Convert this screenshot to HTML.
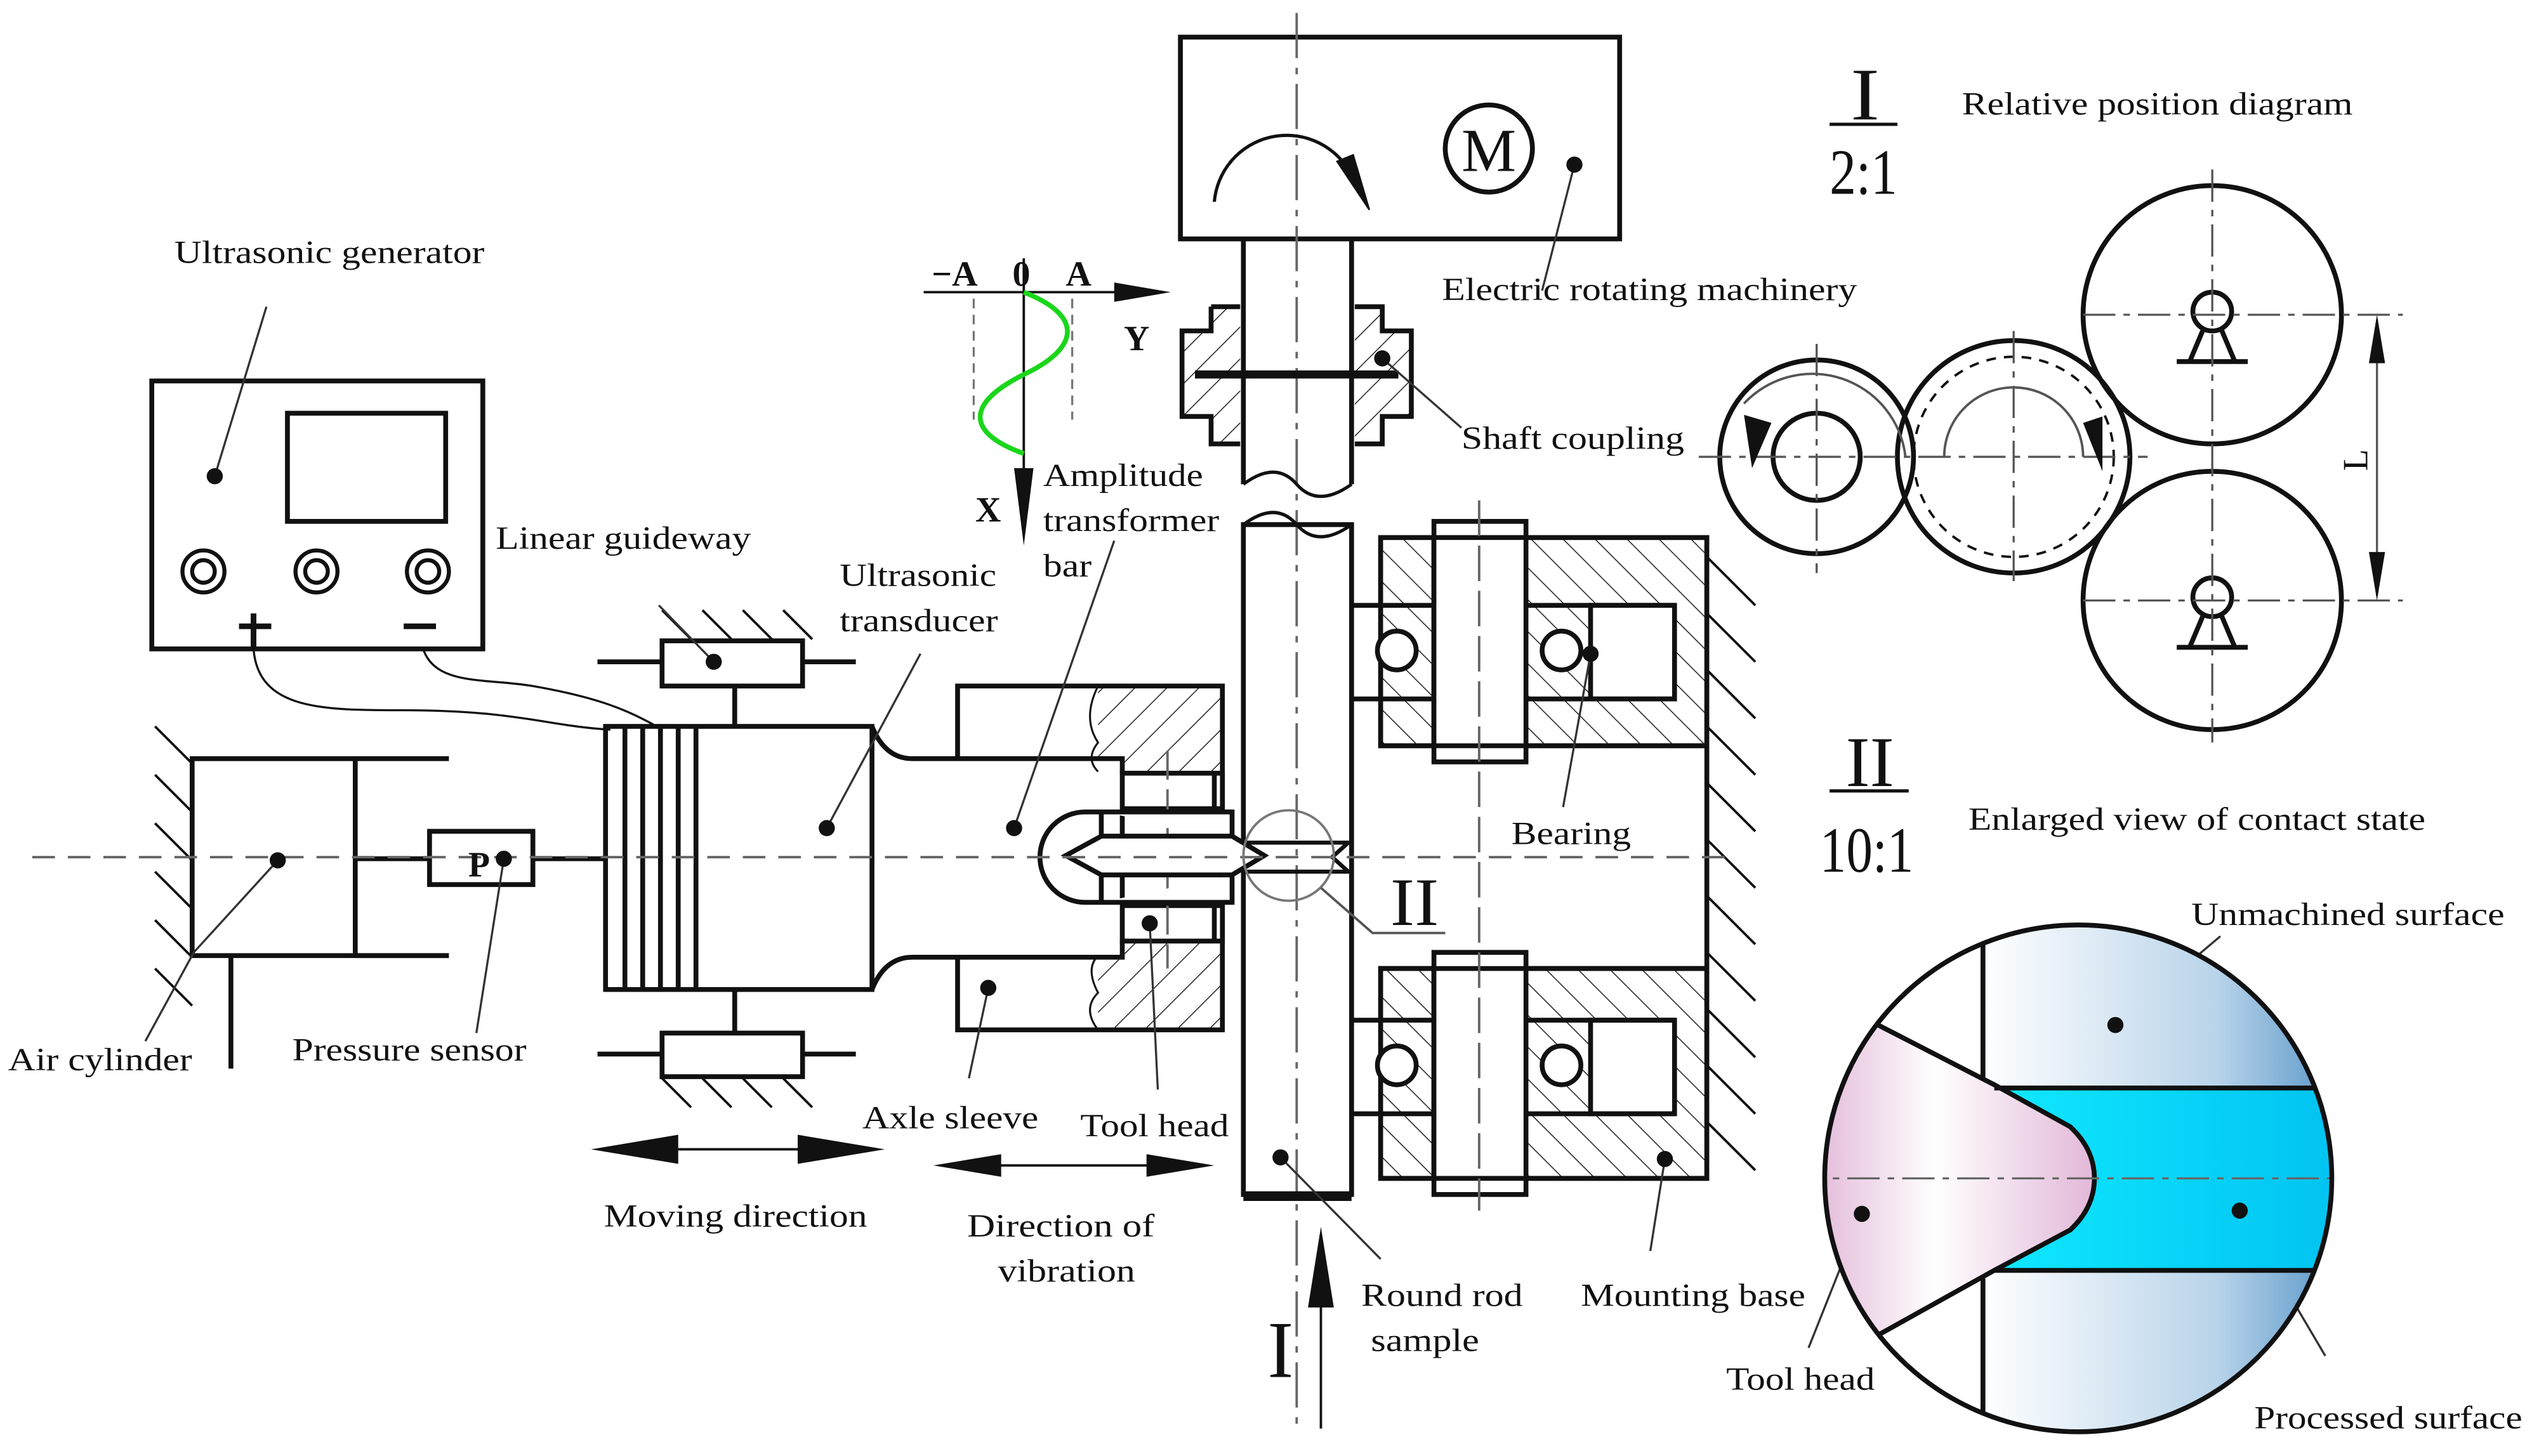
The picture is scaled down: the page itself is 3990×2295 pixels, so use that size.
<!DOCTYPE html>
<html><head><meta charset="utf-8"><style>
html,body{margin:0;padding:0;background:#fff}
svg{display:block}
text{font-family:"Liberation Serif",serif;fill:#111}
</style></head><body>
<svg width="3990" height="2295" viewBox="0 0 1568 902" preserveAspectRatio="none" xmlns="http://www.w3.org/2000/svg">
<defs>
<pattern id="h" width="14" height="14" patternUnits="userSpaceOnUse" patternTransform="rotate(45)"><line x1="0" y1="0" x2="0" y2="14" stroke="#222" stroke-width="1.2"/></pattern>
<pattern id="h2" width="14" height="14" patternUnits="userSpaceOnUse" patternTransform="rotate(-45)"><line x1="0" y1="0" x2="0" y2="14" stroke="#222" stroke-width="1.2"/></pattern>
<linearGradient id="blue" x1="0" x2="1"><stop offset="0" stop-color="#fff"/><stop offset="0.6" stop-color="#b9d4ea"/><stop offset="1" stop-color="#3f86c0"/></linearGradient>
<linearGradient id="pink" x1="0" x2="1"><stop offset="0" stop-color="#d9a3cc"/><stop offset="0.5" stop-color="#fff"/><stop offset="1" stop-color="#e2b8d8"/></linearGradient>
<linearGradient id="cyan" x1="0" x2="1"><stop offset="0" stop-color="#10e8ff"/><stop offset="1" stop-color="#00bff0"/></linearGradient>
<clipPath id="cc"><circle cx="1287" cy="730" r="157"/></clipPath>
</defs>
<g stroke="#111" fill="none" stroke-width="3">
<rect x="731" y="23" width="272" height="125"/>
<circle cx="922" cy="92" r="27"/>
<path d="M752,125 A45,45 0 0 1 835,105" stroke-width="2"/>
<path d="M828,100 L848,130 L838,96z" fill="#111" stroke-width="1"/>
<line x1="803" y1="8" x2="803" y2="885" stroke="#666" stroke-width="1.5" stroke-dasharray="28,6,4,6"/>
<line x1="770" y1="148" x2="770" y2="300"/><line x1="837" y1="148" x2="837" y2="300"/>
<path d="M770,300 Q790,285 803,300 T837,300" stroke-width="2"/>
<path d="M770,325 Q790,310 803,325 T837,325" stroke-width="2"/>
<rect x="750" y="190" width="18" height="85" fill="url(#h)" stroke="none"/>
<rect x="732" y="205" width="18" height="53" fill="url(#h)" stroke="none"/>
<rect x="839" y="190" width="17" height="85" fill="url(#h)" stroke="none"/>
<rect x="856" y="205" width="18" height="53" fill="url(#h)" stroke="none"/>
<path d="M750,190 H768 M839,190 H856 V205 H874 V258 H856 V275 H839 M768,275 H750 V258 H732 V205 H750 V190" />
<line x1="740" y1="232" x2="866" y2="232" stroke-width="5"/>
<rect x="770" y="325" width="67" height="415"/>
<line x1="770" y1="741" x2="837" y2="741" stroke-width="6"/>
<g fill="url(#h2)">
<path d="M855,333 H888 V462 H855z M945,333 H1057 V462 H945z" />
<path d="M855,600 H888 V730 H855z M945,600 H1057 V730 H945z" />
</g>
<rect x="855" y="333" width="202" height="129"/>
<rect x="855" y="600" width="202" height="130"/>
<line x1="1057" y1="462" x2="1057" y2="600"/>
<g fill="#fff">
<rect x="888" y="323" width="57" height="149"/><rect x="888" y="333" width="57" height="129"/>
<rect x="888" y="590" width="57" height="150"/><rect x="888" y="600" width="57" height="130"/>
<rect x="985" y="375" width="52" height="58"/><rect x="985" y="632" width="52" height="58"/>
</g>
<path d="M837,375 H888 M837,433 H888 M945,375 H1037 M945,433 H1037 M837,632 H888 M837,690 H888 M945,632 H1037 M945,690 H1037" />
<g fill="#fff"><circle cx="865" cy="403" r="12"/><circle cx="967" cy="403" r="12"/><circle cx="865" cy="660" r="12"/><circle cx="967" cy="660" r="12"/></g>
<line x1="916" y1="310" x2="916" y2="750" stroke="#666" stroke-width="1.5" stroke-dasharray="22,6"/>
<g stroke-width="1.5"><path d="M1057,345 l30,30 M1057,380 l30,30 M1057,415 l30,30 M1057,450 l30,30 M1057,485 l30,30 M1057,520 l30,30 M1057,555 l30,30 M1057,590 l30,30 M1057,625 l30,30 M1057,660 l30,30 M1057,695 l30,30"/></g>
<rect x="94" y="236" width="205" height="166"/>
<rect x="178" y="256" width="98" height="67"/>
<g stroke-width="2.5"><circle cx="126" cy="354" r="13"/><circle cx="126" cy="354" r="7"/><circle cx="196" cy="354" r="13"/><circle cx="196" cy="354" r="7"/><circle cx="265" cy="354" r="13"/><circle cx="265" cy="354" r="7"/></g>
<path d="M148,388 H168 M157,380 V402 M250,388 H270" stroke-width="3.5"/>
<path d="M157,402 C160,440 200,440 250,440 C320,440 340,450 378,452" stroke-width="1.3"/>
<path d="M262,402 C270,425 300,420 330,425 C370,432 390,440 410,452" stroke-width="1.3"/>
<rect x="119" y="470" width="101" height="122"/>
<line x1="220" y1="470" x2="278" y2="470"/><line x1="220" y1="592" x2="278" y2="592"/>
<line x1="220" y1="532" x2="266" y2="532"/><line x1="143" y1="592" x2="143" y2="662"/>
<g stroke-width="1.5"><path d="M96,450 l23,23 M96,480 l23,23 M96,510 l23,23 M96,540 l23,23 M96,570 l23,23 M96,600 l23,23"/></g>
<rect x="266" y="515" width="64" height="33"/>
<line x1="330" y1="532" x2="375" y2="532"/>
<rect x="375" y="450" width="165" height="163"/>
<path d="M387,450 V613 M398,450 V613 M409,450 V613 M420,450 V613 M431,450 V613"/>
<path d="M540,450 Q548,470 565,470 H695 V479 M540,613 Q548,593 565,593 H695 V583" />
<line x1="370" y1="410" x2="530" y2="410"/><rect x="410" y="397" width="87" height="28" fill="#fff"/>
<line x1="455" y1="425" x2="455" y2="450"/>
<line x1="370" y1="653" x2="530" y2="653"/><rect x="410" y="640" width="87" height="27" fill="#fff"/>
<line x1="455" y1="613" x2="455" y2="640"/>
<g stroke-width="1.5"><path d="M410,378 l18,18 M435,378 l18,18 M460,378 l18,18 M485,378 l18,18 M410,668 l18,18 M435,668 l18,18 M460,668 l18,18 M485,668 l18,18"/></g>
<path d="M680,425 H757 V479 H695 V470 H680z" fill="url(#h)" stroke="none"/>
<path d="M680,592 H695 V583 H757 V638 H680z" fill="url(#h)" stroke="none"/>
<path d="M593,470 V425 H757 V638 H593 V593"/>
<path d="M680,425 Q670,445 680,460 Q672,470 680,478 M680,592 Q672,600 680,615 Q670,625 680,638" stroke-width="1.2"/>
<rect x="695" y="479" width="62" height="104" fill="#fff"/>
<path d="M695,501 H757 M695,561 H757 M752,479 V501 M752,561 V583"/>
<line x1="723" y1="465" x2="723" y2="600" stroke="#666" stroke-width="1.5" stroke-dasharray="18,6"/>
<path d="M682,503 H672 A27,27 0 0 0 672,559 H682" fill="#fff"/>
<path d="M682,503 H763 V518 M682,559 H763 V542 M682,503 V559" fill="#fff"/>
<path d="M682,518 H763 L783,530 L763,542 H682 L660,530z" fill="#fff"/>
<path d="M770,522 H835 L825,531 L835,540 H770" stroke-width="2.5"/>
<line x1="20" y1="531" x2="1070" y2="531" stroke="#666" stroke-width="1.5" stroke-dasharray="14,8"/>
<circle cx="798" cy="530" r="28" stroke="#777" stroke-width="1.5"/>
<path d="M818,550 L850,578 H895" stroke="#555" stroke-width="1.5"/>
<line x1="385" y1="712" x2="530" y2="712" stroke-width="1.5"/>
<path d="M366,712 L420,703 V721z M548,712 L494,703 V721z" fill="#111" stroke="none"/>
<line x1="590" y1="722" x2="740" y2="722" stroke-width="1.5"/>
<path d="M578,722 L620,715 V729z M752,722 L710,715 V729z" fill="#111" stroke="none"/>
<line x1="818" y1="885" x2="818" y2="790" stroke-width="1.5"/>
<path d="M818,760 L810,810 H826z" fill="#111" stroke="none"/>
<line x1="572" y1="181" x2="705" y2="181" stroke-width="1.5"/>
<path d="M725,181 L690,175 V187z" fill="#111" stroke="none"/>
<line x1="634" y1="160" x2="634" y2="300" stroke-width="1.5"/>
<path d="M634,338 L628,290 H640z" fill="#111" stroke="none"/>
<path d="M603,185 V260 M664,185 V260" stroke="#777" stroke-width="1.3" stroke-dasharray="6,4"/>
<path d="M634,181 C670,195 670,215 634,232 C598,250 598,268 634,281" stroke="#1ad61a" stroke-width="3"/>
<g stroke-width="1.3" stroke="#333">
<path d="M133,295 L165,190 M172,533 L120,590 L90,645 M312,532 L295,640 M442,410 L408,375 M512,513 L570,405 M628,513 L690,335 M612,612 L600,668 M712,572 L717,675 M793,717 L855,780 M1031,718 L1022,775 M985,405 L968,500 M856,222 L905,265 M975,102 L955,180 M1153,752 L1120,835 M1310,635 L1375,580 M1387,750 L1440,840"/>
</g>
</g>
<g fill="#111">
<circle cx="133" cy="295" r="5"/><circle cx="172" cy="533" r="5"/><circle cx="312" cy="532" r="5"/><circle cx="442" cy="410" r="5"/><circle cx="512" cy="513" r="5"/><circle cx="628" cy="513" r="5"/><circle cx="612" cy="612" r="5"/><circle cx="712" cy="572" r="5"/><circle cx="793" cy="717" r="5"/><circle cx="1031" cy="718" r="5"/><circle cx="985" cy="405" r="5"/><circle cx="856" cy="222" r="5"/><circle cx="975" cy="102" r="5"/>
</g>
<g stroke="#111" fill="none" stroke-width="3">
<circle cx="1125" cy="283" r="60"/><circle cx="1125" cy="283" r="27"/>
<circle cx="1247" cy="283" r="72"/><circle cx="1247" cy="283" r="62" stroke-width="1.5" stroke-dasharray="6,5"/>
<circle cx="1370" cy="195" r="80"/><circle cx="1370" cy="372" r="80"/>
<circle cx="1370" cy="193" r="12" fill="#fff"/><circle cx="1370" cy="370" r="12" fill="#fff"/>
<path d="M1364,205 L1356,224 M1376,205 L1384,224 M1348,224 H1392 M1364,382 L1356,401 M1376,382 L1384,401 M1348,401 H1392"/>
<g stroke-width="1.3" stroke="#555">
<path d="M1052,283 H1330 M1125,213 V355 M1247,205 V360 M1290,195 H1488 M1290,372 H1488 M1370,105 V460" stroke-dasharray="20,5,4,5"/>
<line x1="1472" y1="198" x2="1472" y2="369"/>
</g>
<path d="M1180,283 A58,58 0 0 0 1080,250 M1204,283 A43,43 0 0 1 1290,283" stroke="#555" stroke-width="1.5"/>
<path d="M1472,195 L1467,225 H1477z M1472,372 L1467,342 H1477z M1085,290 L1080,257 L1097,262z M1302,292 L1290,262 L1302,258z" fill="#111" stroke="none"/>
<line x1="1133" y1="77" x2="1175" y2="77" stroke-width="2"/>
<line x1="1133" y1="490" x2="1182" y2="490" stroke-width="2"/>
</g>
<g clip-path="url(#cc)">
<rect x="1228" y="570" width="240" height="330" fill="url(#blue)"/>
<rect x="1100" y="570" width="128" height="330" fill="#fff"/>
<path d="M1235,674 H1470 V787 H1235z" fill="url(#cyan)"/>
<path d="M1100,600 L1165,636 L1235,672 L1282,698 Q1297,712 1297,730 Q1297,748 1282,762 L1235,787 L1165,826 L1100,860z" fill="url(#pink)"/>
<g stroke="#111" stroke-width="3" fill="none">
<path d="M1228,570 V668 M1228,792 V890 M1100,600 L1165,636 L1235,672 L1282,698 Q1297,712 1297,730 Q1297,748 1282,762 L1235,787 L1165,826 L1100,860"/>
<path d="M1235,674 H1470 M1235,787 H1470"/>
</g>
<line x1="1110" y1="730" x2="1460" y2="730" stroke="#666" stroke-width="1.3" stroke-dasharray="20,5,4,5"/>
</g>
<circle cx="1287" cy="730" r="157" fill="none" stroke="#111" stroke-width="3"/>
<circle cx="1310" cy="635" r="5" fill="#111"/><circle cx="1153" cy="752" r="5" fill="#111"/><circle cx="1387" cy="750" r="5" fill="#111"/>
<g font-size="20">
<text x="108" y="163" textLength="192" lengthAdjust="spacingAndGlyphs">Ultrasonic generator</text>
<text x="307" y="340" textLength="158" lengthAdjust="spacingAndGlyphs">Linear guideway</text>
<text x="520" y="363" textLength="97" lengthAdjust="spacingAndGlyphs">Ultrasonic</text><text x="520" y="391" textLength="98" lengthAdjust="spacingAndGlyphs">transducer</text>
<text x="646" y="301" textLength="99" lengthAdjust="spacingAndGlyphs">Amplitude</text><text x="646" y="329" textLength="109" lengthAdjust="spacingAndGlyphs">transformer</text><text x="646" y="357" textLength="30" lengthAdjust="spacingAndGlyphs">bar</text>
<text x="5" y="663" textLength="114" lengthAdjust="spacingAndGlyphs">Air cylinder</text>
<text x="181" y="657" textLength="145" lengthAdjust="spacingAndGlyphs">Pressure sensor</text>
<text x="534" y="699" textLength="109" lengthAdjust="spacingAndGlyphs">Axle sleeve</text>
<text x="669" y="704" textLength="92" lengthAdjust="spacingAndGlyphs">Tool head</text>
<text x="374" y="760" textLength="163" lengthAdjust="spacingAndGlyphs">Moving direction</text>
<text x="599" y="766" textLength="116" lengthAdjust="spacingAndGlyphs">Direction of</text><text x="618" y="794" textLength="85" lengthAdjust="spacingAndGlyphs">vibration</text>
<text x="843" y="809" textLength="100" lengthAdjust="spacingAndGlyphs">Round rod</text><text x="849" y="837" textLength="67" lengthAdjust="spacingAndGlyphs">sample</text>
<text x="979" y="809" textLength="139" lengthAdjust="spacingAndGlyphs">Mounting base</text>
<text x="936" y="523" textLength="74" lengthAdjust="spacingAndGlyphs">Bearing</text>
<text x="905" y="278" textLength="138" lengthAdjust="spacingAndGlyphs">Shaft coupling</text>
<text x="893" y="186" textLength="257" lengthAdjust="spacingAndGlyphs">Electric rotating machinery</text>
<text x="1215" y="71" textLength="242" lengthAdjust="spacingAndGlyphs">Relative position diagram</text>
<text x="1219" y="514" textLength="283" lengthAdjust="spacingAndGlyphs">Enlarged view of contact state</text>
<text x="1357" y="573" textLength="194" lengthAdjust="spacingAndGlyphs">Unmachined surface</text>
<text x="1069" y="861" textLength="92" lengthAdjust="spacingAndGlyphs">Tool head</text>
<text x="1396" y="885" textLength="166" lengthAdjust="spacingAndGlyphs">Processed surface</text>
</g>
<g font-size="22" font-weight="bold">
<text x="577" y="177">−A</text><text x="627" y="177">0</text><text x="660" y="177">A</text>
<text x="604" y="323">X</text><text x="696" y="217">Y</text>
<text x="290" y="543">P</text>
</g>
<text x="922" y="106" font-size="38" text-anchor="middle">M</text>
<text x="1146" y="74" font-size="46" textLength="18" lengthAdjust="spacingAndGlyphs">I</text>
<text x="1133" y="120" font-size="40" textLength="42" lengthAdjust="spacingAndGlyphs">2:1</text>
<text x="1143" y="487" font-size="44" textLength="30" lengthAdjust="spacingAndGlyphs">II</text>
<text x="1127" y="540" font-size="40" textLength="58" lengthAdjust="spacingAndGlyphs">10:1</text>
<text x="861" y="573" font-size="42" textLength="30" lengthAdjust="spacingAndGlyphs">II</text>
<text x="785" y="853" font-size="50" textLength="16" lengthAdjust="spacingAndGlyphs">I</text>
<text x="1466" y="285" font-size="22" transform="rotate(-90 1466 285)" text-anchor="middle">L</text>
</svg>
</body></html>
